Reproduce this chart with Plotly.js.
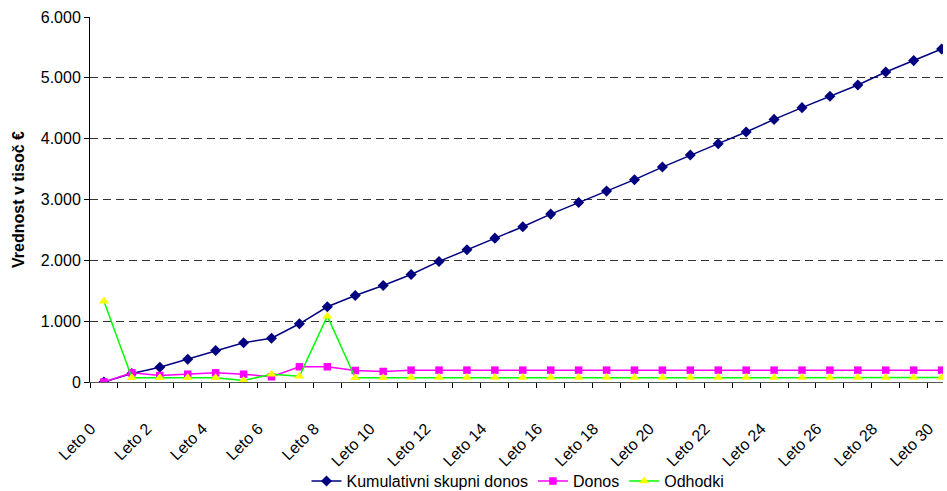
<!DOCTYPE html>
<html>
<head>
<meta charset="utf-8">
<script src="https://cdn.plot.ly/plotly-3.0.1.min.js"></script>
<style>html,body{margin:0;padding:0;background:#fff}#chart{width:947px;height:491px}</style>
</head>
<body>
<div id="chart"></div>
<script>
const categories = ["Leto 0","Leto 1","Leto 2","Leto 3","Leto 4","Leto 5","Leto 6","Leto 7","Leto 8","Leto 9","Leto 10","Leto 11","Leto 12","Leto 13","Leto 14","Leto 15","Leto 16","Leto 17","Leto 18","Leto 19","Leto 20","Leto 21","Leto 22","Leto 23","Leto 24","Leto 25","Leto 26","Leto 27","Leto 28","Leto 29","Leto 30"];
const kumulativni = [0,140,243,375,518,645,720,957,1237,1423,1587,1768,1982,2174,2365,2553,2760,2952,3138,3326,3533,3730,3918,4109,4317,4510,4696,4882,5095,5283,5474];
const donos = [0,151,107,128,151,128,86,250,250,189,173,195,195,195,195,195,195,195,195,195,195,195,195,195,195,195,195,195,195,195,195];
const odhodki = [1329,69,69,69,69,25,128,95,1082,69,69,72,72,72,72,72,72,72,72,72,72,72,72,72,72,72,72,72,72,72,72];
const tickLabels = categories.map((c,i)=> i%2===0 ? c : "");

const traces = [
  {x:categories, y:kumulativni, name:"Kumulativni skupni donos", type:"scatter", mode:"lines+markers",
   line:{color:"#000080", width:1.5}, marker:{symbol:"diamond", size:8.5, color:"#000080"}},
  {x:categories, y:donos, name:"Donos", type:"scatter", mode:"lines+markers",
   line:{color:"#FF00FF", width:1.5}, marker:{symbol:"square", size:7.5, color:"#FF00FF"}},
  {x:categories, y:odhodki, name:"Odhodki", type:"scatter", mode:"lines+markers",
   line:{color:"#00FF00", width:1.5}, marker:{symbol:"triangle-up", size:9, color:"#FFFF00"}}
];

const layout = {
  width:947, height:491,
  margin:{l:90, r:4, t:16.5, b:108.5},
  paper_bgcolor:"#fff", plot_bgcolor:"#fff",
  separators:",.",
  font:{family:"Liberation Sans, Arial, sans-serif", size:16, color:"#000"},
  showlegend:true,
  legend:{orientation:"h", xref:"container", x:0.547, xanchor:"center",
          yref:"container", y:0.02, yanchor:"middle",
          font:{size:16, color:"#000"}, bgcolor:"rgba(0,0,0,0)"},
  xaxis:{type:"category", range:[-0.5, 30.05], tickvals:categories, ticktext:tickLabels,
         tickson:"boundaries", ticks:"outside", ticklen:5, tickcolor:"#000",
         tickangle:-45, ticklabelstandoff:30, ticklabelshift:-13, automargin:false,
         showgrid:false, zeroline:false, showline:true, linecolor:"#555", linewidth:1,
         tickfont:{size:16}},
  yaxis:{range:[0,6000], dtick:1000, tickformat:",d", ticks:"outside", ticklen:5, tickcolor:"#000",
         automargin:false,
         showline:true, linecolor:"#000", linewidth:1, zeroline:false,
         showgrid:true, gridcolor:"#333", gridwidth:1, griddash:"8px,5px",
         tickfont:{size:16},
         title:{text:"<b>Vrednost v tisoč €</b>", font:{size:16}, standoff:12}}
};

Plotly.newPlot("chart", traces, layout, {displayModeBar:false, staticPlot:true});
</script>
</body>
</html>
